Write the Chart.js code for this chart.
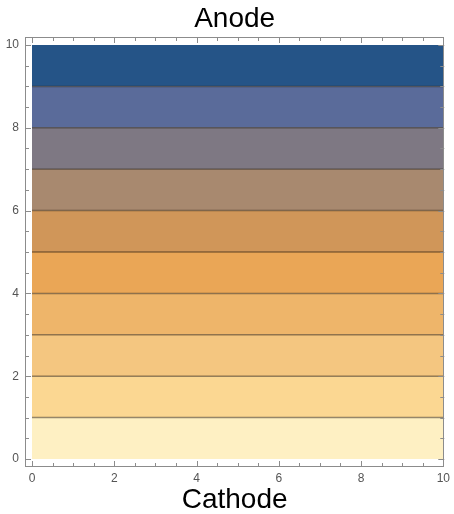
<!DOCTYPE html>
<html>
<head>
<meta charset="utf-8">
<script src="https://cdn.jsdelivr.net/npm/chart.js@4.4.0/dist/chart.umd.min.js"></script>
<style>
  html, body { margin: 0; padding: 0; background: #fff; }
  #wrap { width: 454px; height: 514px; }
</style>
</head>
<body>
<div id="wrap"><canvas id="plot" width="454" height="514"></canvas></div>
<script>
// contour levels, bottom (cathode) -> top (anode)
const levels = [0, 1, 2, 3, 4, 5, 6, 7, 8, 9, 10];
// horizontal extent of the gap
const xSpan = [0, 10];
// labelled ticks
const xTicks = [0, 2, 4, 6, 8, 10];
const yTicks = [0, 2, 4, 6, 8, 10];

// band fill colours, bottom -> top
const bandColors = ['#FEF0C3', '#FBD792', '#F4C680', '#EEB56A', '#EAA656',
                    '#D09659', '#A8896F', '#7E7883', '#5A6B9A', '#255487'];
const contourLine = 'rgba(45, 32, 15, 0.5)';
const frameColor = '#8c8c8c';
const fontFamily = '"Liberation Sans", Arial, Helvetica, sans-serif';

// 每个色带：从 level[i] 填充到 level[i+1]
const datasets = levels.slice(0, -1).map((lo, i) => ({
    data: xSpan.map(x => ({ x: x, y: levels[i + 1] })),
    fill: { value: lo },
    backgroundColor: bandColors[i],
    borderColor: i < levels.length - 2 ? contourLine : 'rgba(0,0,0,0)',
    borderWidth: 1.5,
    pointRadius: 0,
    tension: 0
}));

// 画边框和朝内的刻度（Mathematica 风格）
const frameTicks = {
    id: 'frameTicks',
    afterDraw(chart) {
        const { ctx, chartArea: a, scales: { x, y } } = chart;
        ctx.save();
        ctx.strokeStyle = frameColor;
        ctx.lineWidth = 1;
        ctx.strokeRect(Math.round(a.left) + 0.5, Math.round(a.top) + 0.5,
                       Math.round(a.right - a.left) - 1, Math.round(a.bottom - a.top) - 1);
        ctx.beginPath();
        for (let k = 0; k <= 20; k++) {
            const v = k / 2;
            const len = (k % 4 === 0) ? 6 : 4;
            const px = Math.round(x.getPixelForValue(v)) + 0.5;
            const py = Math.round(y.getPixelForValue(v)) + 0.5;
            // bottom / top
            ctx.moveTo(px, a.bottom); ctx.lineTo(px, a.bottom - len);
            ctx.moveTo(px, a.top); ctx.lineTo(px, a.top + len);
            // left / right
            ctx.moveTo(a.left, py); ctx.lineTo(a.left + len, py);
            ctx.moveTo(a.right, py); ctx.lineTo(a.right - len, py);
        }
        ctx.stroke();
        ctx.restore();
    }
};

const titleFont = { family: fontFamily, size: 28, weight: 'normal', lineHeight: 1.0 };
const tickFont = { family: fontFamily, size: 12 };

new Chart(document.getElementById('plot').getContext('2d'), {
    type: 'line',
    data: { datasets: datasets },
    plugins: [frameTicks],
    options: {
        responsive: false,
        animation: false,
        layout: { padding: { left: 0, right: 8, top: 0, bottom: 0 } },
        plugins: {
            legend: { display: false },
            tooltip: { enabled: false }
        },
        scales: {
            x: {
                type: 'linear',
                min: -0.17,
                max: 10.024,
                grid: { display: false, drawTicks: false },
                border: { display: false },
                ticks: { color: '#555', font: tickFont, padding: 4, maxRotation: 0 },
                title: { display: true, text: 'Cathode', color: '#000', font: titleFont, padding: { top: 0, bottom: 0 } },
                afterBuildTicks: s => { s.ticks = xTicks.map(v => ({ value: v })); },
                afterFit: s => { s.height = 47; }
            },
            xTop: {
                type: 'linear',
                position: 'top',
                min: -0.17,
                max: 10.024,
                grid: { display: false, drawTicks: false },
                border: { display: false },
                ticks: { display: false },
                title: { display: true, text: 'Anode', color: '#000', font: titleFont, padding: { top: 5.3, bottom: 0 } },
                afterFit: s => { s.height = 37; }
            },
            y: {
                type: 'linear',
                min: -0.193,
                max: 10.193,
                grid: { display: false, drawTicks: false },
                border: { display: false },
                ticks: { color: '#555', font: tickFont, padding: 6 },
                afterBuildTicks: s => { s.ticks = yTicks.map(v => ({ value: v })); },
                afterFit: s => { s.width = 25; }
            }
        }
    }
});
</script>
</body>
</html>
